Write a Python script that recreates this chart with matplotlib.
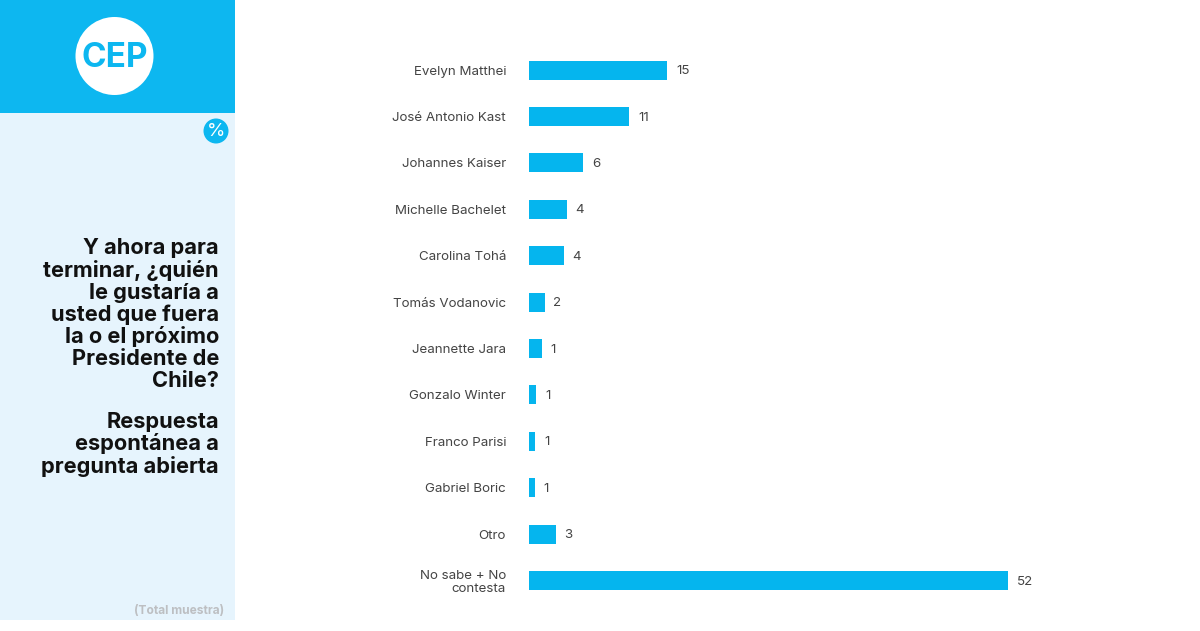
import numpy as np
import matplotlib
matplotlib.use('Agg')
import matplotlib.pyplot as plt
from matplotlib.patches import Rectangle, Circle

plt.rcParams['font.family'] = ['Inter', 'DejaVu Sans']

nombres = ['Evelyn Matthei', 'José Antonio Kast', 'Johannes Kaiser', 'Michelle Bachelet',
           'Carolina Tohá', 'Tomás Vodanovic', 'Jeannette Jara', 'Gonzalo Winter',
           'Franco Parisi', 'Gabriel Boric', 'Otro', 'No sabe + No\ncontesta']
valores = [15.0, 10.9, 5.9, 4.1, 3.8, 1.7, 1.4, 0.8, 0.7, 0.6, 2.9, 52.0]
etiquetas = ['15', '11', '6', '4', '4', '2', '1', '1', '1', '1', '3', '52']

pregunta = 'Y ahora para\nterminar, ¿quién\nle gustaría a\nusted que fuera\nla o el próximo\nPresidente de\nChile?'
nota = 'Respuesta\nespontánea a\npregunta abierta'

W, H = 1200, 631
AZUL = '#0DB7F0'
fig = plt.figure(figsize=(12, 6.31), dpi=100, facecolor='white')

# capa de fondo en pixeles
bg = fig.add_axes([0, 0, 1, 1])
bg.set_xlim(0, W)
bg.set_ylim(H, 0)
bg.axis('off')
bg.add_patch(Rectangle((0, 113), 235, 507, color='#E6F4FD', lw=0))
bg.add_patch(Rectangle((0, 0), 235, 113, color=AZUL, lw=0))
bg.add_patch(Circle((114.5, 56), 39, color='white', lw=0))
bg.text(114.5, 58, 'CEP', color=AZUL, fontsize=24, fontweight='bold', ha='center', va='center')
bg.add_patch(Circle((216, 131), 12.5, color=AZUL, lw=0))
bg.text(216, 131.5, '%', color='white', fontsize=13.5, ha='center', va='center')
bg.text(219, 238.5, pregunta, fontsize=15.7, fontweight='bold', color='#111111',
        ha='right', va='top', linespacing=1.097)
bg.text(219, 411.5, nota, fontsize=15.7, fontweight='bold', color='#111111',
        ha='right', va='top', linespacing=1.097)
bg.text(224, 611, '(Total muestra)', fontsize=8.6, fontweight='bold', color='#BDBFC2',
        ha='right', va='center')

# barras
x0, x1 = 529, 1100
y0, y1 = 47, 603.6
ax = fig.add_axes([x0 / W, 1 - y1 / H, (x1 - x0) / W, (y1 - y0) / H])
ax.patch.set_alpha(0)
pos = np.arange(len(nombres))
ax.barh(pos, valores, height=0.41, color='#05B5EE')
ax.set_xlim(0, (x1 - x0) / 9.21)
ax.set_ylim(len(nombres) - 0.5, -0.5)
ax.set_yticks(pos)
ax.set_yticklabels(nombres, fontsize=9.6, color='#444444', ha='right', linespacing=1.15)
ax.tick_params(axis='y', length=0, pad=16.5)
ax.xaxis.set_visible(False)
for s in ax.spines.values():
    s.set_visible(False)
for p, v, e in zip(pos, valores, etiquetas):
    ax.annotate(e, (v, p), xytext=(6.3, -0.8), textcoords='offset points',
                fontsize=9.6, color='#444444', va='center')

fig.savefig('out.png', dpi=100)
